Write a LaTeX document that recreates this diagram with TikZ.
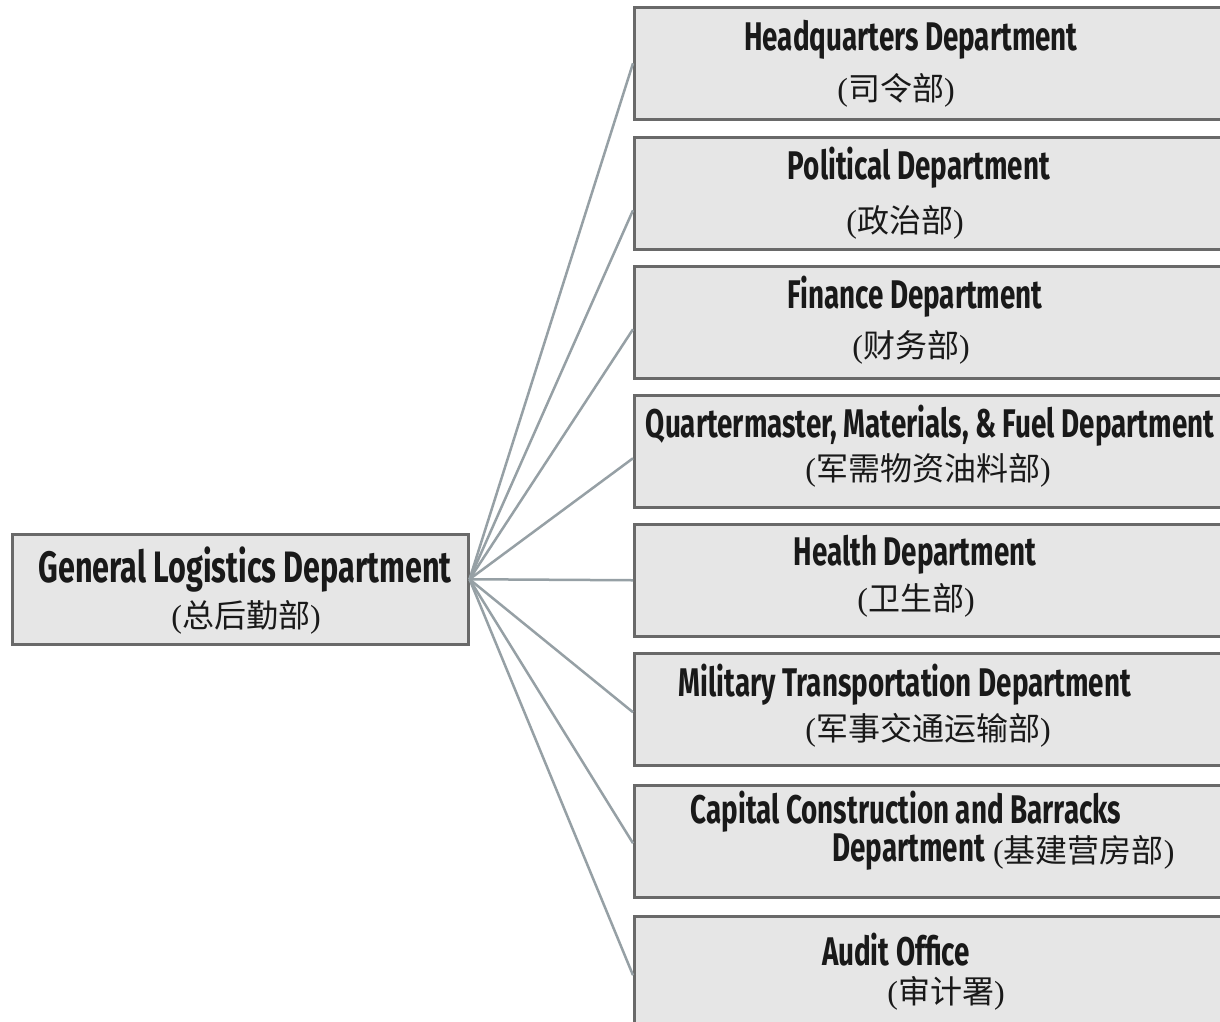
\documentclass[tikz,border=0pt]{standalone}
\usepackage{fontspec}
\newfontfamily\engfont[FakeStretch=0.695]{Fira Sans}
\newfontfamily\cjk{Noto Sans CJK SC}
\newfontfamily\serf{Liberation Serif}
\newcommand{\zh}[1]{{\serf(}{\cjk #1}{\serf)}}
\definecolor{boxfill}{RGB}{230,230,230}
\definecolor{boxline}{RGB}{105,105,105}
\definecolor{connc}{RGB}{150,160,165}
\definecolor{txt}{RGB}{25,25,25}
\begin{document}
\begin{tikzpicture}[x=1pt,y=-1pt,
  box/.style={draw=boxline, fill=boxfill, line width=2.5pt, inner sep=0, anchor=north west},
  conn/.style={draw=connc, line width=2.5pt},
  en/.style={font=\engfont\bfseries\fontsize{40}{44}\selectfont, text=txt, inner sep=0, anchor=center},
  zhs/.style={font=\fontsize{32}{36}\selectfont, text=txt, inner sep=0, anchor=center}]
\clip (0,0) rectangle (1220,1021);
\fill[white] (0,0) rectangle (1220,1021);
% main box
\node[box, minimum width=456pt, minimum height=110pt] (main) at (11,533) {};
\node[en, font=\engfont\bfseries\fontsize{44}{48}\selectfont] (mainen) at (245,570) {General Logistics Department};
\node[zhs] (mainzh) at (246,617) {\zh{总后勤部}};
% right boxes
\foreach \i/\t in {1/6,2/136,3/265,4/394,5/523,6/652,7/784,8/915}{
  \node[box, minimum width=610pt, minimum height=112pt] (b\i) at (633,\t) {};
}
\coordinate (src) at ([yshift=10pt]main.east);
\draw[conn] (src) -- (b1.west);
\draw[conn] (src) -- ([yshift=-17pt]b2.west);
\draw[conn] (src) -- ([yshift=-7pt]b3.west);
\draw[conn] (src) -- ([yshift=-7pt]b4.west);
\draw[conn] (src) -- (b5.west);
\draw[conn] (src) -- ([yshift=-3pt]b6.west);
\draw[conn] (src) -- ([yshift=-2pt]b7.west);
\draw[conn] (src) -- ([yshift=-3pt]b8.west);
% texts
\node[en] (t1) at (911,40) {Headquarters Department};
\node[zhs] (z1) at (896,90) {\zh{司令部}};
\node[en] (t2) at (919,168) {Political Department};
\node[zhs] (z2) at (905,222) {\zh{政治部}};
\node[en] (t3) at (915,297) {Finance Department};
\node[zhs] (z3) at (911,347) {\zh{财务部}};
\node[en] (t4) at (930,426) {Quartermaster, Materials, \& Fuel Department};
\node[zhs] (z4) at (928,470) {\zh{军需物资油料部}};
\node[en] (t5) at (915,555) {Health Department};
\node[zhs] (z5) at (916,600) {\zh{卫生部}};
\node[en] (t6) at (905,685) {Military Transportation Department};
\node[zhs] (z6) at (928,730) {\zh{军事交通运输部}};
\node[en] (t7) at (906,812) {Capital Construction and Barracks};
\node[en, anchor=east] (t7b) at (985,852) {Department};
\node[zhs, anchor=west] (z7) at (993,852) {\zh{基建营房部}};
\node[en] (t8) at (896,950) {Audit Office};
\node[zhs] (z8) at (946,993) {\zh{审计署}};
\end{tikzpicture}
\end{document}
